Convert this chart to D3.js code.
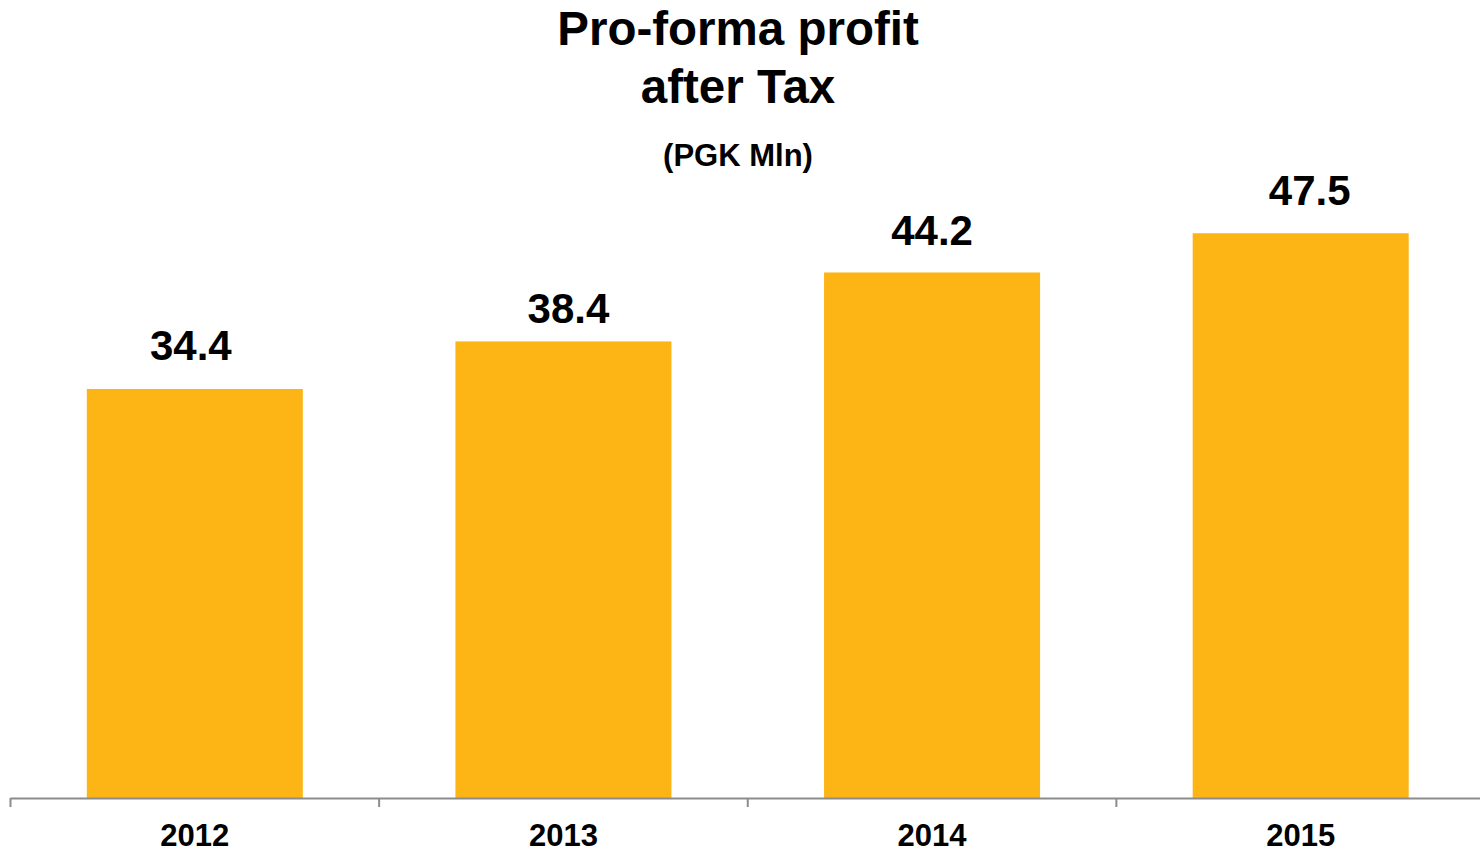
<!DOCTYPE html>
<html>
<head>
<meta charset="utf-8">
<script src="https://cdn.jsdelivr.net/npm/d3@7"></script>
<style>
  body { margin: 0; background: #fff; }
  text { font-family: "Liberation Sans", Arial, sans-serif; font-weight: bold; fill: #000; }
</style>
</head>
<body>
<div id="container"></div>
<script>
/* DATA */
const years = ["2012", "2013", "2014", "2015"];
const profit = [34.4, 38.4, 44.2, 47.5];

/* CONSTANTS */
const width = 1480;
const height = 852;
const baseY = 798;
// hand-placed label nudges, as in the original slide
const labelDx = [-4, 5, 0, 9];
const labelGap = [29, 18, 27, 28];

const svg = d3.select("#container")
    .append("svg")
    .attr("width", width)
    .attr("height", height);

// title
svg.append("text")
    .attr("x", 738).attr("y", 45)
    .attr("text-anchor", "middle")
    .style("font-size", "47.5px")
    .text("Pro-forma profit");
svg.append("text")
    .attr("x", 738).attr("y", 103)
    .attr("text-anchor", "middle")
    .style("font-size", "47.5px")
    .text("after Tax");
svg.append("text")
    .attr("x", 738).attr("y", 166)
    .attr("text-anchor", "middle")
    .style("font-size", "31px")
    .text("(PGK Mln)");

/* SCALES */
const xScale = d3.scaleBand()
    .domain(years)
    .range([10.5, 1485])
    .paddingInner(0.414)
    .paddingOuter(0.207);

const yScale = d3.scaleLinear()
    .domain([0, 1])
    .range([baseY, baseY - 11.89]);

// bars
svg.selectAll("rect.bar")
    .data(years)
    .join("rect")
    .attr("class", "bar")
    .attr("x", d => xScale(d))
    .attr("width", xScale.bandwidth())
    .attr("y", (d, i) => yScale(profit[i]))
    .attr("height", (d, i) => baseY - yScale(profit[i]))
    .attr("fill", "#FDB515");

// value labels
svg.selectAll("text.val")
    .data(years)
    .join("text")
    .attr("class", "val")
    .attr("x", (d, i) => xScale(d) + xScale.bandwidth() / 2 + labelDx[i])
    .attr("y", (d, i) => yScale(profit[i]) - labelGap[i])
    .attr("text-anchor", "middle")
    .style("font-size", "42px")
    .text((d, i) => profit[i].toFixed(1));

// axis line + ticks between categories
const step = xScale.step();
svg.append("line")
    .attr("x1", 10.5).attr("x2", width)
    .attr("y1", baseY + 0.5).attr("y2", baseY + 0.5)
    .attr("stroke", "#8c8c8c").attr("stroke-width", 2);

svg.selectAll("line.tick")
    .data(d3.range(years.length))
    .join("line")
    .attr("class", "tick")
    .attr("x1", i => 10.5 + i * step)
    .attr("x2", i => 10.5 + i * step)
    .attr("y1", baseY)
    .attr("y2", baseY + 9)
    .attr("stroke", "#8c8c8c").attr("stroke-width", 2);

// year labels
svg.selectAll("text.year")
    .data(years)
    .join("text")
    .attr("class", "year")
    .attr("x", d => xScale(d) + xScale.bandwidth() / 2)
    .attr("y", 846)
    .attr("text-anchor", "middle")
    .style("font-size", "31px")
    .text(d => d);
</script>
</body>
</html>
